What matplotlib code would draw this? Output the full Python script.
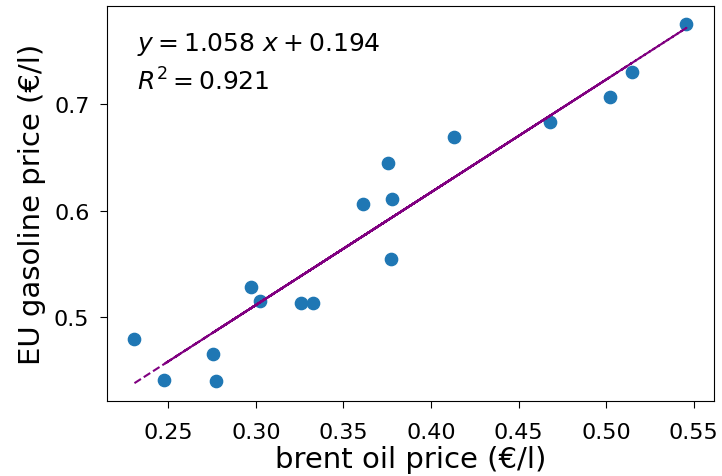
import matplotlib
matplotlib.use('Agg')
import matplotlib.pyplot as plt
import numpy as np

# brent oil price vs EU gasoline price, EUR per litre
brent = [0.2307, 0.3024, 0.2475, 0.3776, 0.2753, 0.4133, 0.2773, 0.5458, 0.2970,
         0.3757, 0.3260, 0.5022, 0.3327, 0.3610, 0.4680, 0.3769, 0.5148]
gasoline = [0.4792, 0.5148, 0.4415, 0.6110, 0.4657, 0.6690, 0.4400, 0.7750, 0.5286,
            0.6450, 0.5135, 0.7066, 0.5135, 0.6060, 0.6827, 0.5544, 0.7305]

slope = 1.058
intercept = 0.194
r2 = 0.921

fig = plt.figure(figsize=(7.22, 4.77), dpi=100)
ax = fig.add_axes([0.148, 0.157, 0.841, 0.828])

ax.scatter(brent, gasoline, s=78, color='#1f77b4', zorder=2)

x = np.array(brent)
ax.plot(x, slope * x + intercept, '--', color='purple', lw=1.5, zorder=3)

ax.text(0.05, 0.94, r'$y=%.3f\ x+%.3f$' % (slope, intercept), transform=ax.transAxes,
        fontsize=18, va='top')
ax.text(0.05, 0.845, r'$R^2=%.3f$' % r2, transform=ax.transAxes, fontsize=18, va='top')

ax.set_xlabel('brent oil price (€/l)', fontsize=21, labelpad=2)
ax.set_ylabel('EU gasoline price (€/l)', fontsize=21, labelpad=6)
ax.tick_params(labelsize=16, length=5)
ax.tick_params(axis='x', pad=10)
ax.tick_params(axis='y', pad=7.5)
ax.set_yticks([0.5, 0.6, 0.7])

fig.savefig('out.png', dpi=100)
